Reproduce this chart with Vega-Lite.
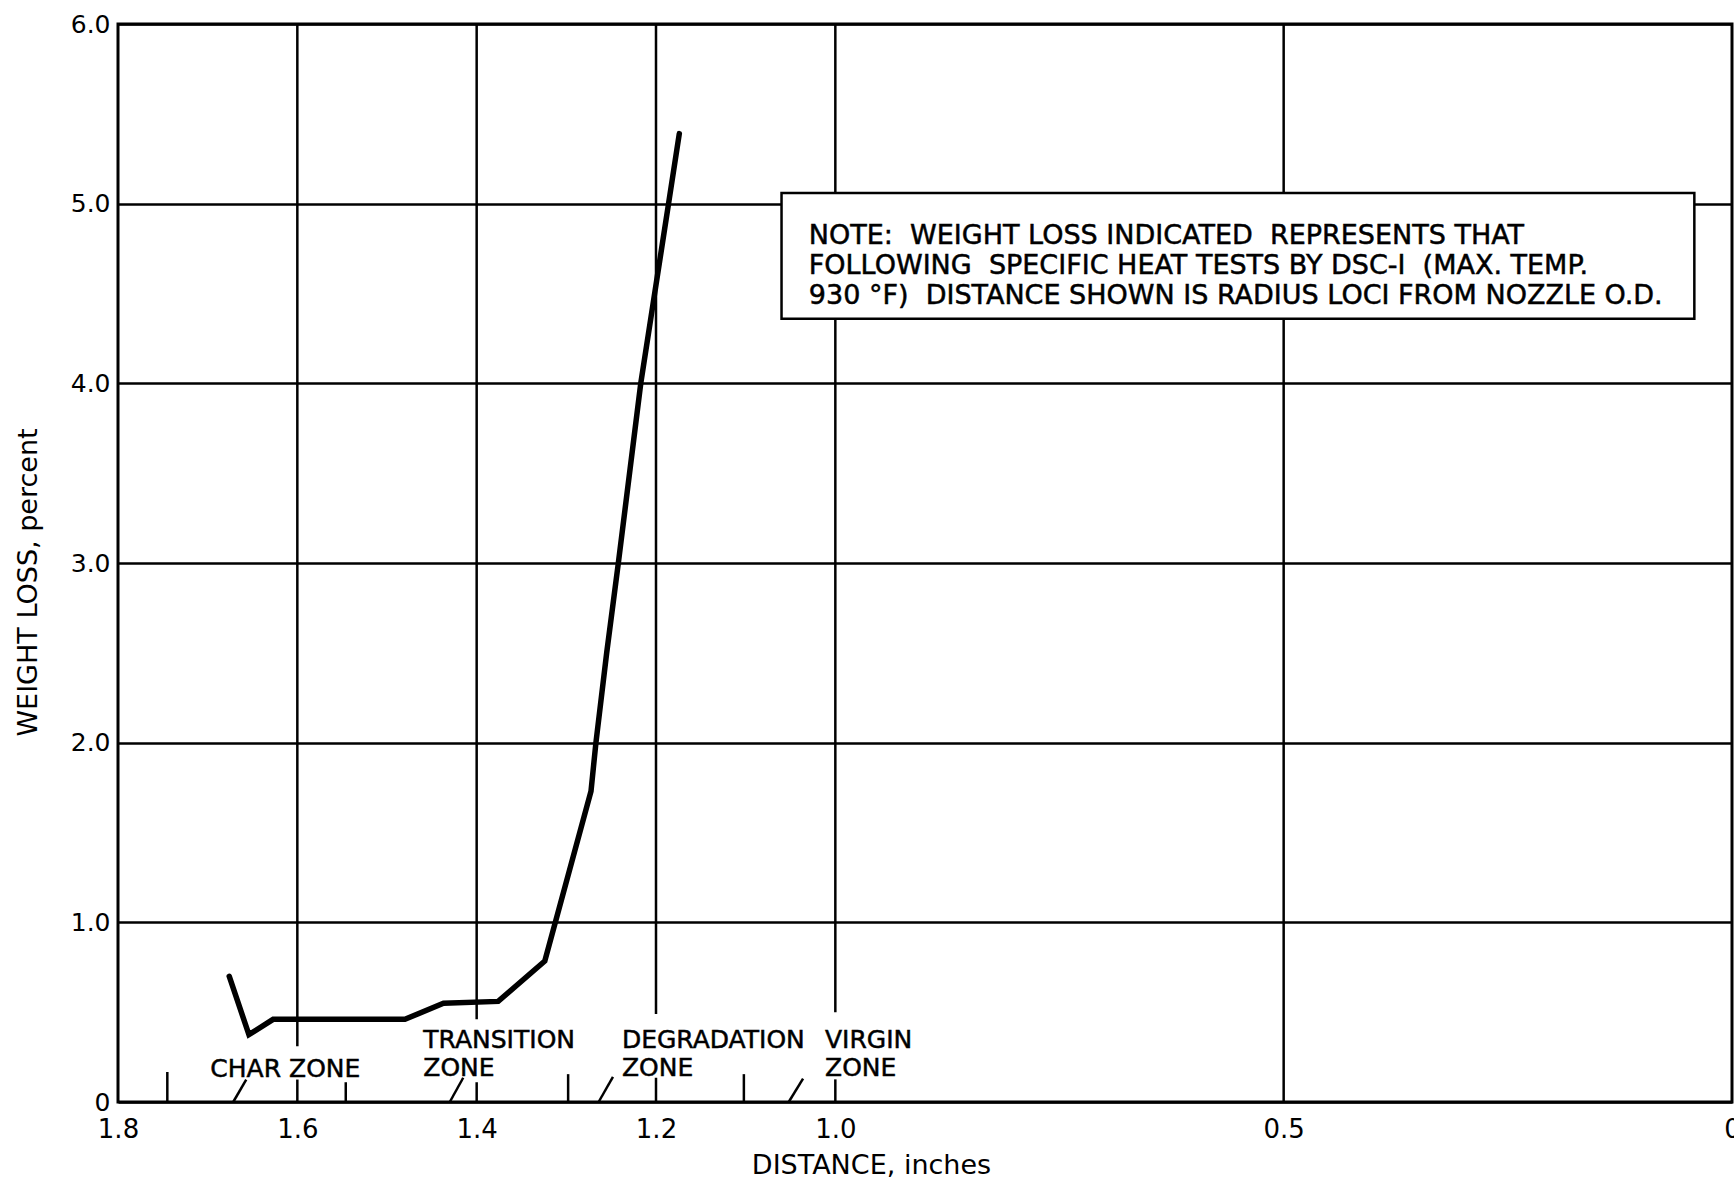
{
  "$schema": "https://vega.github.io/schema/vega-lite/v6.json",
  "autosize": {"type": "none"},
  "width": 1614,
  "height": 1078,
  "padding": {"left": 118, "top": 24, "right": 2, "bottom": 80},
  "background": "white",
  "config": {
    "view": {"stroke": "black", "strokeWidth": 3},
    "font": "DejaVu Sans"
  },
  "datasets": {
    "curve": [
      {"x": 1.676, "y": 0.70},
      {"x": 1.654, "y": 0.375},
      {"x": 1.627, "y": 0.46},
      {"x": 1.48, "y": 0.46},
      {"x": 1.437, "y": 0.55},
      {"x": 1.376, "y": 0.56},
      {"x": 1.324, "y": 0.785},
      {"x": 1.2725, "y": 1.73},
      {"x": 1.267, "y": 2.0},
      {"x": 1.255, "y": 2.5},
      {"x": 1.242, "y": 3.0},
      {"x": 1.217, "y": 4.0},
      {"x": 1.186, "y": 5.0},
      {"x": 1.174, "y": 5.39}
    ],
    "vlines": [
      {"x": 1.6, "y": 0.31, "y2": 6},
      {"x": 1.6, "y": 0, "y2": 0.125},
      {"x": 1.4, "y": 0.46, "y2": 6},
      {"x": 1.4, "y": 0, "y2": 0.11},
      {"x": 1.2, "y": 0.49, "y2": 6},
      {"x": 1.2, "y": 0, "y2": 0.135},
      {"x": 1.0, "y": 0.5, "y2": 6},
      {"x": 1.0, "y": 0, "y2": 0.126},
      {"x": 0.5, "y": 0, "y2": 6},
      {"x": 1.745, "y": 0, "y2": 0.167},
      {"x": 1.546, "y": 0, "y2": 0.11},
      {"x": 1.298, "y": 0, "y2": 0.155},
      {"x": 1.102, "y": 0, "y2": 0.155}
    ],
    "slashes": [
      {"x": 1.6715, "y": 0, "x2": 1.657, "y2": 0.125},
      {"x": 1.43, "y": 0, "x2": 1.415, "y2": 0.135},
      {"x": 1.264, "y": 0, "x2": 1.248, "y2": 0.14},
      {"x": 1.052, "y": 0, "x2": 1.036, "y2": 0.13}
    ],
    "zones": [
      {"x": 1.697, "y": 0.141, "label": "CHAR ZONE"},
      {"x": 1.4595, "y": 0.302, "label": "TRANSITION\nZONE"},
      {"x": 1.238, "y": 0.302, "label": "DEGRADATION\nZONE"},
      {"x": 1.0115, "y": 0.302, "label": "VIRGIN\nZONE"}
    ],
    "notebox": [
      {"x": 1.06, "y": 5.059, "x2": 0.042, "y2": 4.36}
    ],
    "note": [
      {"x": 1.0296, "y": 4.775, "label": "NOTE:\u00a0\u00a0WEIGHT LOSS INDICATED\u00a0\u00a0REPRESENTS THAT\nFOLLOWING\u00a0\u00a0SPECIFIC HEAT TESTS BY DSC-I\u00a0\u00a0(MAX. TEMP.\n930 °F)\u00a0\u00a0DISTANCE SHOWN IS RADIUS LOCI FROM NOZZLE O.D."}
    ]
  },
  "encoding": {
    "x": {
      "field": "x",
      "type": "quantitative",
      "scale": {"domain": [0, 1.8], "reverse": true, "nice": false, "zero": false},
      "axis": {
        "title": "DISTANCE, inches",
        "values": [1.8, 1.6, 1.4, 1.2, 1.0, 0.5, 0],
        "labelExpr": "datum.value == 0 ? '0' : format(datum.value, '.1f')",
        "grid": false,
        "ticks": false,
        "tickSize": 0,
        "domain": false,
        "labelPadding": 14,
        "labelFont": "DejaVu Sans",
        "labelFontSize": 26,
        "labelColor": "black",
        "labelFlush": false,
        "labelOverlap": false,
        "titleFont": "DejaVu Sans",
        "titleFontSize": 27,
        "titleFontWeight": "normal",
        "titleColor": "black",
        "titleX": 753,
        "titleY": 71,
        "titleAlign": "center",
        "titleBaseline": "alphabetic"
      }
    },
    "y": {
      "field": "y",
      "type": "quantitative",
      "scale": {"domain": [0, 6], "nice": false},
      "axis": {
        "title": "WEIGHT LOSS, percent",
        "values": [0, 1, 2, 3, 4, 5, 6],
        "labelExpr": "datum.value == 0 ? '0' : format(datum.value, '.1f')",
        "grid": true,
        "gridColor": "black",
        "gridWidth": 2.5,
        "gridOpacity": 1,
        "ticks": false,
        "tickSize": 0,
        "domain": false,
        "labelPadding": 8,
        "labelFont": "DejaVu Sans",
        "labelFontSize": 25,
        "labelColor": "black",
        "labelFlush": false,
        "labelOverlap": false,
        "titleFont": "DejaVu Sans",
        "titleFontSize": 27,
        "titleFontWeight": "normal",
        "titleColor": "black",
        "titleX": -82,
        "titleY": 558,
        "titleAlign": "center",
        "titleBaseline": "alphabetic"
      }
    }
  },
  "layer": [
    {
      "data": {"name": "vlines"},
      "mark": {"type": "rule", "color": "black", "strokeWidth": 2.5},
      "encoding": {"y2": {"field": "y2"}}
    },
    {
      "data": {"name": "slashes"},
      "mark": {"type": "rule", "color": "black", "strokeWidth": 2.5},
      "encoding": {"x2": {"field": "x2"}, "y2": {"field": "y2"}}
    },
    {
      "data": {"name": "notebox"},
      "mark": {"type": "rect", "fill": "white", "stroke": "black", "strokeWidth": 2.5},
      "encoding": {"x2": {"field": "x2"}, "y2": {"field": "y2"}}
    },
    {
      "data": {"name": "note"},
      "mark": {"type": "text", "align": "left", "baseline": "alphabetic", "lineBreak": "\n", "lineHeight": 30, "font": "DejaVu Sans", "fontSize": 27, "color": "black", "stroke": "black", "strokeWidth": 0.5},
      "encoding": {"text": {"field": "label"}}
    },
    {
      "data": {"name": "zones"},
      "mark": {"type": "text", "align": "left", "baseline": "alphabetic", "lineBreak": "\n", "lineHeight": 28.4, "font": "DejaVu Sans", "fontSize": 25, "color": "black", "stroke": "black", "strokeWidth": 0.5},
      "encoding": {"text": {"field": "label"}}
    },
    {
      "data": {"name": "curve"},
      "mark": {"type": "line", "color": "black", "strokeWidth": 5.5, "strokeJoin": "miter", "strokeCap": "round"}
    }
  ]
}
